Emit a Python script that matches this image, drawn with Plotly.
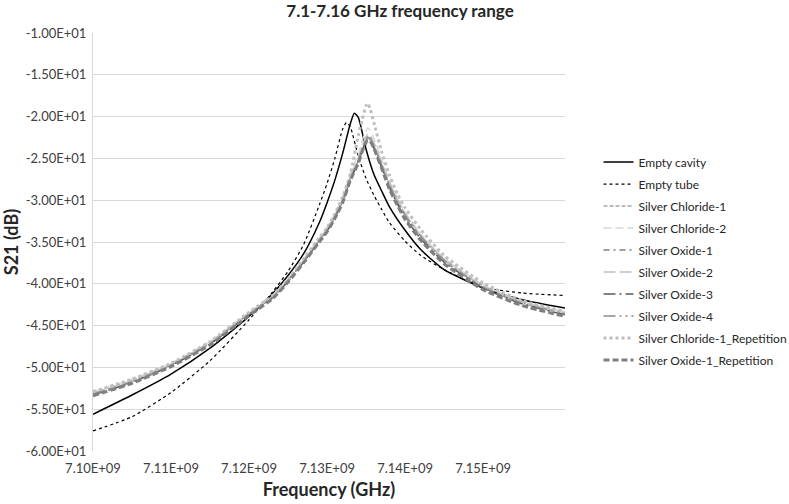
import plotly.graph_objects as go

# ---- data (frequency in GHz, S21 in dB) ----
freq_cavity = [7.100, 7.105, 7.110, 7.115, 7.120, 7.123, 7.125, 7.127, 7.129, 7.130, 7.131, 7.132, 7.133,
               7.1335, 7.134, 7.135, 7.136, 7.137, 7.138, 7.140, 7.142, 7.145, 7.150, 7.155, 7.1605]
empty_cavity = [-55.6, -53.3, -50.8, -47.7, -43.9, -41.2, -39.0, -36.4, -32.7, -30.3, -27.6, -24.4, -20.8,
                -19.6, -20.1, -23.9, -26.9, -28.9, -30.8, -33.6, -35.9, -38.3, -40.5, -41.9, -42.9]

freq_tube = [7.100, 7.105, 7.110, 7.115, 7.120, 7.123, 7.125, 7.127, 7.129, 7.130, 7.131, 7.132, 7.1325,
             7.133, 7.134, 7.135, 7.136, 7.137, 7.138, 7.140, 7.142, 7.145, 7.150, 7.155, 7.1605]
empty_tube = [-57.6, -55.9, -53.0, -49.2, -44.3, -41.0, -38.5, -35.3, -30.6, -28.0, -25.0, -21.5, -20.7,
              -21.3, -24.7, -27.4, -29.4, -31.1, -32.7, -34.9, -36.6, -38.3, -40.4, -41.1, -41.4]

freq_silver = [7.100, 7.105, 7.110, 7.115, 7.120, 7.123, 7.125, 7.127, 7.129, 7.130, 7.131, 7.132, 7.133,
               7.134, 7.1345, 7.135, 7.1352, 7.1355, 7.136, 7.137, 7.138, 7.139, 7.140, 7.142, 7.145,
               7.150, 7.155, 7.1605]
silver_chloride_1 = [-53.0, -51.5, -49.6, -47.0, -43.5, -41.5, -39.5, -37.2, -34.7, -33.5, -31.9, -30.0, -27.2,
                     -25.2, -23.8, -22.7, -22.4, -22.5, -23.4, -25.7, -28.1, -30.0, -31.7, -34.2, -37.0,
                     -40.2, -42.1, -43.4]
silver_chloride_2 = [-52.9, -51.4, -49.5, -46.9, -43.4, -41.4, -39.4, -37.0, -34.5, -33.2, -31.6, -29.6, -26.7,
                     -24.5, -22.9, -21.7, -21.4, -21.6, -22.6, -25.1, -27.7, -29.7, -31.4, -34.0, -36.9,
                     -40.1, -42.1, -43.4]
silver_oxide_1 = [-53.2, -51.7, -49.7, -47.1, -43.6, -41.6, -39.6, -37.3, -34.8, -33.6, -32.0, -30.1, -27.4,
                  -25.4, -24.0, -22.9, -22.6, -22.7, -23.6, -25.9, -28.3, -30.2, -31.9, -34.4, -37.2,
                  -40.4, -42.3, -43.5]
silver_oxide_2 = [-53.1, -51.6, -49.6, -47.0, -43.5, -41.5, -39.5, -37.2, -34.7, -33.4, -31.8, -29.9, -27.1,
                  -25.0, -23.5, -22.4, -22.1, -22.2, -23.1, -25.5, -27.9, -29.9, -31.6, -34.2, -37.1,
                  -40.3, -42.2, -43.5]
silver_oxide_3 = [-53.3, -51.8, -49.8, -47.2, -43.7, -41.7, -39.7, -37.4, -34.9, -33.7, -32.1, -30.2, -27.5,
                  -25.5, -24.1, -23.0, -22.8, -22.9, -23.8, -26.1, -28.5, -30.4, -32.1, -34.6, -37.4,
                  -40.5, -42.4, -43.7]
silver_oxide_4 = [-53.2, -51.7, -49.7, -47.1, -43.6, -41.6, -39.6, -37.3, -34.8, -33.5, -31.9, -30.0, -27.3,
                  -25.3, -23.9, -22.8, -22.5, -22.6, -23.5, -25.8, -28.2, -30.1, -31.8, -34.3, -37.2,
                  -40.4, -42.3, -43.6]
silver_chloride_1_rep = [-52.9, -51.4, -49.5, -46.9, -43.4, -41.4, -39.4, -37.0, -34.5, -33.3, -31.6, -29.6, -26.8,
                         -22.3, -20.4, -18.7, -18.4, -19.0, -20.7, -24.2, -27.0, -29.2, -30.9, -33.5, -36.6,
                         -39.9, -42.0, -43.3]
silver_oxide_1_rep = [-53.4, -51.9, -49.9, -47.3, -43.8, -41.8, -39.8, -37.5, -35.0, -33.8, -32.2, -30.3, -27.6,
                      -25.6, -24.2, -23.1, -22.8, -22.9, -23.8, -26.2, -28.7, -30.6, -32.3, -34.8, -37.6,
                      -40.7, -42.6, -43.9]

x_tick_vals = [7.10, 7.11, 7.12, 7.13, 7.14, 7.15]
x_tick_text = ["7.10E+09", "7.11E+09", "7.12E+09", "7.13E+09", "7.14E+09", "7.15E+09"]
y_tick_vals = [-10, -15, -20, -25, -30, -35, -40, -45, -50, -55, -60]
y_tick_text = ["-1.00E+01", "-1.50E+01", "-2.00E+01", "-2.50E+01", "-3.00E+01", "-3.50E+01",
               "-4.00E+01", "-4.50E+01", "-5.00E+01", "-5.50E+01", "-6.00E+01"]

series = [
    ("Empty cavity", freq_cavity, empty_cavity, "#000000", "solid", 1.5),
    ("Empty tube", freq_tube, empty_tube, "#000000", "dot", 1.2),
    ("Silver Chloride-1", freq_silver, silver_chloride_1, "#a6a6a6", "4px,2px", 1.5),
    ("Silver Chloride-2", freq_silver, silver_chloride_2, "#d9d9d9", "8px,4px", 1.5),
    ("Silver Oxide-1", freq_silver, silver_oxide_1, "#7f7f7f", "6px,4px,2px,4px", 1.5),
    ("Silver Oxide-2", freq_silver, silver_oxide_2, "#bfbfbf", "12px,4px", 1.5),
    ("Silver Oxide-3", freq_silver, silver_oxide_3, "#595959", "12px,4px,2px,4px", 1.5),
    ("Silver Oxide-4", freq_silver, silver_oxide_4, "#8c8c8c", "12px,4px,2px,4px,2px,4px", 1.5),
    ("Silver Chloride-1_Repetition", freq_silver, silver_chloride_1_rep, "#bfbfbf", "dot", 3),
    ("Silver Oxide-1_Repetition", freq_silver, silver_oxide_1_rep, "#7f7f7f", "6px,3px", 3),
]

fig = go.Figure()
for i, (name, fx, fy, color, dash, width) in enumerate(series):
    fig.add_trace(go.Scatter(
        x=fx, y=fy, name=name, mode="lines", legendgroup=f"g{i}",
        line=dict(color=color, dash=dash, width=width, shape="spline", smoothing=0.6),
    ))

FONT = "Lato, 'Open Sans', sans-serif"

fig.update_layout(
    width=789, height=504,
    margin=dict(l=93, r=224, t=33, b=53, autoexpand=False),
    paper_bgcolor="white", plot_bgcolor="white",
    font=dict(family=FONT, color="#404040"),
    title=dict(text="<b>7.1-7.16 GHz frequency range</b>", x=400 / 789, xanchor="center",
               y=1 - 11 / 504, yanchor="middle", font=dict(size=17, color="#262626", family=FONT)),
    legend=dict(x=1.071, xanchor="left", y=0.726, yanchor="top", itemwidth=30,
                font=dict(size=12, color="#262626", family=FONT),
                tracegroupgap=3, bgcolor="rgba(0,0,0,0)"),
    showlegend=True,
)
fig.update_xaxes(
    range=[7.1, 7.1605], tickvals=x_tick_vals, ticktext=x_tick_text,
    showgrid=False, zeroline=False, showline=False, ticks="", ticklabelstandoff=8,
    tickfont=dict(size=13, color="#404040"), automargin=False,
    title=dict(text="<b>Frequency (GHz)</b>", font=dict(size=18, color="#262626"), standoff=8),
)
fig.update_yaxes(
    range=[-60, -10], tickvals=y_tick_vals, ticktext=y_tick_text,
    showgrid=True, gridcolor="#d9d9d9", gridwidth=1, zeroline=False,
    showline=True, linecolor="#d9d9d9", linewidth=1, ticks="", ticklabelstandoff=3,
    tickfont=dict(size=13, color="#404040"), automargin=False,
    title=dict(text="<b>S21 (dB)</b>", font=dict(size=18, color="#262626"), standoff=8),
)

fig.write_html("out.html", config={"displayModeBar": False},
               post_script="document.body.style.margin='0';")
